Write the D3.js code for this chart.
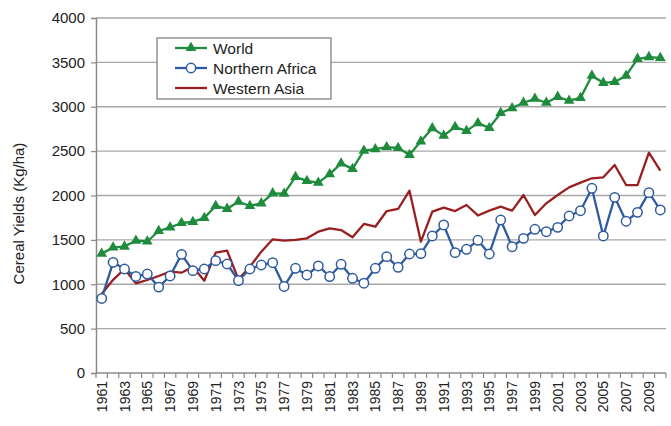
<!DOCTYPE html>
<html>
<head>
<meta charset="utf-8">
<script src="https://cdn.jsdelivr.net/npm/d3@7/dist/d3.min.js"></script>
<style>
  html, body { margin: 0; padding: 0; background: #fff; }
  svg { display: block; font-family: "Liberation Sans", Arial, Helvetica, sans-serif; }
</style>
</head>
<body>
<svg id="chart" width="671" height="426"></svg>
<script>
// Cereal yields (kg/ha), 1961–2010
const years = d3.range(1961, 2011);

const world = [
  1345, 1415, 1425, 1490, 1482, 1600, 1640, 1690, 1702, 1748,
  1882, 1850, 1930, 1882, 1912, 2025, 2020, 2210, 2165, 2145,
  2240, 2362, 2300, 2505, 2522, 2545, 2535, 2458, 2610, 2758,
  2675, 2772, 2728, 2815, 2762, 2930, 2985, 3045, 3090, 3045,
  3112, 3068, 3100, 3350, 3270, 3280, 3350, 3540, 3560, 3550
];

const northernAfrica = [
  840, 1247, 1172, 1088, 1115, 968, 1093, 1337, 1153, 1172,
  1266, 1228, 1042, 1172, 1217, 1243, 975, 1180, 1104, 1206,
  1087, 1225, 1067, 1012, 1180, 1311, 1191, 1341, 1345, 1544,
  1668, 1356, 1394, 1495, 1341, 1724, 1423, 1517, 1619, 1592,
  1641, 1769, 1829, 2081, 1544, 1979, 1710, 1810, 2032, 1837
];

const westernAsia = [
  890, 1050, 1172, 1010, 1048, 1093, 1142, 1130, 1198, 1040,
  1356, 1378, 1055, 1198, 1367, 1506, 1491, 1499, 1517, 1592,
  1630, 1611, 1529, 1679, 1648, 1825, 1848, 2054, 1480, 1818,
  1863, 1825, 1893, 1775, 1829, 1874, 1829, 2006, 1780, 1912,
  2006, 2092, 2145, 2194, 2205, 2344, 2118, 2118, 2482, 2279
];

const yTicks = [0, 500, 1000, 1500, 2000, 2500, 3000, 3500, 4000];
const seriesNames = ["World", "Northern Africa", "Western Asia"];

const colors = { world: "#1f8c3d", nafrica: "#2f5b9f", wasia: "#9a1f20" };

const svg = d3.select("#chart");
const margin = { left: 96, right: 5, top: 18, bottom: 53 };
const W = 671, H = 426;
const innerW = W - margin.left - margin.right;
const innerH = H - margin.top - margin.bottom;

const g = svg.append("g").attr("transform", `translate(${margin.left},${margin.top})`);

const x = d3.scaleBand().domain(years).range([0, innerW]).paddingInner(0).paddingOuter(0);
const xc = d => x(d) + x.bandwidth() / 2;
const y = d3.scaleLinear().domain([0, 4000]).range([innerH, 0]);

// horizontal gridlines
g.append("g").selectAll("line").data(yTicks.filter(t => t > 0)).join("line")
  .attr("x1", 0).attr("x2", innerW)
  .attr("y1", d => y(d)).attr("y2", d => y(d))
  .attr("stroke", "#a8a8a8").attr("stroke-width", 1.3);

// y axis
const yAxis = g.append("g")
  .call(d3.axisLeft(y).tickValues(yTicks).tickSize(5).tickPadding(6).tickFormat(d3.format("d")));
yAxis.select(".domain").attr("stroke", "#8a8a8a").attr("stroke-width", 1.5);
yAxis.selectAll(".tick line").attr("stroke", "#8a8a8a").attr("stroke-width", 1.2);
yAxis.selectAll("text").attr("font-size", 15).attr("fill", "#222")
  .attr("font-family", "'Liberation Sans', Arial, sans-serif");

// x axis: line, ticks between categories, labels every other year
const xAxisG = g.append("g").attr("transform", `translate(0,${innerH})`);
xAxisG.append("line").attr("x1", 0).attr("x2", innerW).attr("y1", 0).attr("y2", 0)
  .attr("stroke", "#8a8a8a").attr("stroke-width", 1.5);
xAxisG.selectAll("line.tk").data(years.concat([2011])).join("line").attr("class", "tk")
  .attr("x1", d => d === 2011 ? innerW : x(d)).attr("x2", d => d === 2011 ? innerW : x(d))
  .attr("y1", 0).attr("y2", 5)
  .attr("stroke", "#8a8a8a").attr("stroke-width", 1.2);
xAxisG.selectAll("text").data(years.filter(d => (d - 1961) % 2 === 0)).join("text")
  .attr("transform", d => `translate(${xc(d) + 5},8) rotate(-90)`)
  .attr("text-anchor", "end")
  .attr("font-size", 14).attr("fill", "#222")
  .text(d => d);

// y axis title
svg.append("text")
  .attr("transform", `translate(24,${margin.top + innerH / 2 + 18}) rotate(-90)`)
  .attr("text-anchor", "middle").attr("font-size", 15).attr("fill", "#222")
  .text("Cereal Yields (Kg/ha)");

// series lines
const line = vals => d3.line().x((d, i) => xc(years[i])).y(d => y(d))(vals);

g.append("path").attr("d", line(westernAsia)).attr("fill", "none")
  .attr("stroke", colors.wasia).attr("stroke-width", 2.3).attr("stroke-linejoin", "round");

g.append("path").attr("d", line(northernAfrica)).attr("fill", "none")
  .attr("stroke", colors.nafrica).attr("stroke-width", 2.3).attr("stroke-linejoin", "round");
g.append("g").selectAll("circle").data(northernAfrica).join("circle")
  .attr("cx", (d, i) => xc(years[i])).attr("cy", d => y(d)).attr("r", 4.7)
  .attr("fill", "#fff").attr("stroke", colors.nafrica).attr("stroke-width", 1.5);

g.append("path").attr("d", line(world)).attr("fill", "none")
  .attr("stroke", colors.world).attr("stroke-width", 2.3).attr("stroke-linejoin", "round");
const tri = d3.symbol().type(d3.symbolTriangle).size(50);
g.append("g").selectAll("path").data(world).join("path")
  .attr("transform", (d, i) => `translate(${xc(years[i])},${y(d)})`)
  .attr("d", tri).attr("fill", colors.world);

// legend
const lg = svg.append("g").attr("transform", "translate(157,38)");
lg.append("rect").attr("width", 174).attr("height", 61)
  .attr("fill", "#fff").attr("stroke", "#777").attr("stroke-width", 1.2);
const legendItems = [
  { name: seriesNames[0], color: colors.world, marker: "tri" },
  { name: seriesNames[1], color: colors.nafrica, marker: "circle" },
  { name: seriesNames[2], color: colors.wasia, marker: null }
];
legendItems.forEach((it, i) => {
  const cy = 10 + i * 20;
  lg.append("line").attr("x1", 18).attr("x2", 50).attr("y1", cy).attr("y2", cy)
    .attr("stroke", it.color).attr("stroke-width", 2.3);
  if (it.marker === "tri") {
    lg.append("path").attr("transform", `translate(34,${cy})`).attr("d", tri).attr("fill", it.color);
  } else if (it.marker === "circle") {
    lg.append("circle").attr("cx", 34).attr("cy", cy).attr("r", 4.7)
      .attr("fill", "#fff").attr("stroke", it.color).attr("stroke-width", 1.5);
  }
  lg.append("text").attr("x", 56).attr("y", cy + 5.5).attr("font-size", 15.5).attr("fill", "#222")
    .text(it.name);
});
</script>
</body>
</html>
